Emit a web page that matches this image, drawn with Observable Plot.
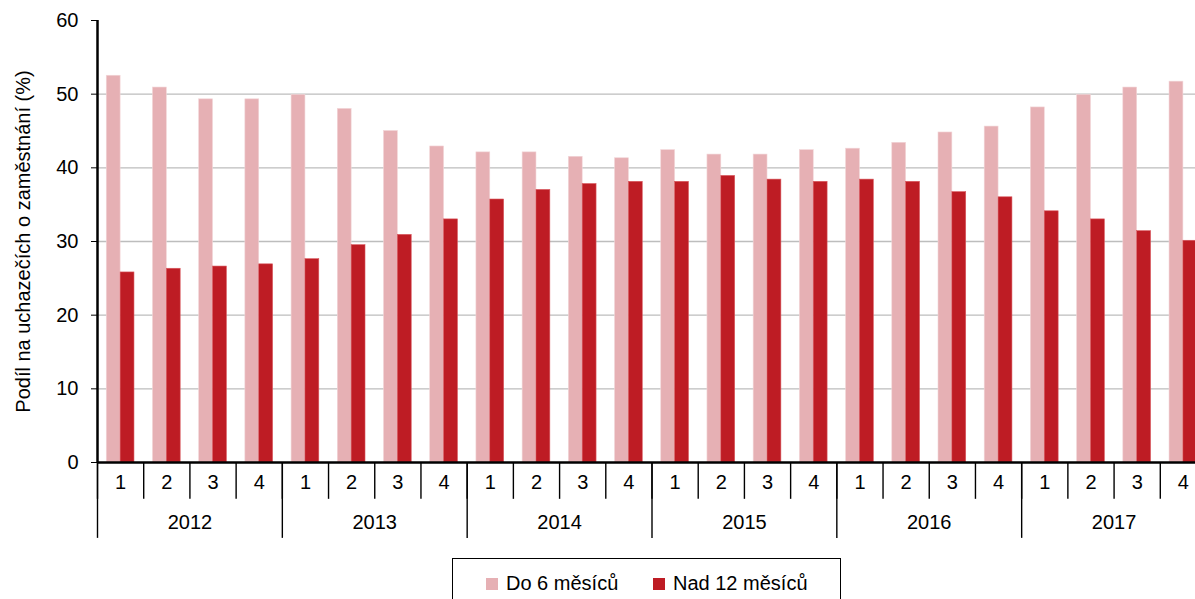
<!DOCTYPE html>
<html>
<head>
<meta charset="utf-8">
<script src="https://cdn.jsdelivr.net/npm/d3@7"></script>
<script src="https://cdn.jsdelivr.net/npm/@observablehq/plot@0.6"></script>
<style>
  html, body { margin: 0; padding: 0; overflow: hidden; background: white; }
  body { width: 1195px; height: 599px; font-family: "Liberation Sans", Arial, sans-serif; }
  #chart svg { max-width: none !important; display: block; }
  #legend {
    position: absolute; left: 452px; top: 558px; width: 389px; height: 60px;
    border: 1px solid #000; box-sizing: border-box; background: white;
    font-size: 20px; color: #000;
  }
  .item { position: absolute; top: 13px; display: flex; align-items: center; white-space: nowrap; }
  .sw { width: 12px; height: 12px; margin-right: 8px; display: inline-block; }
</style>
</head>
<body>
<div id="chart"></div>
<div id="legend">
  <div class="item" style="left:33px"><span class="sw" style="background:#e6b0b4"></span><span id="l1"></span></div>
  <div class="item" style="left:200px"><span class="sw" style="background:#be1c24"></span><span id="l2"></span></div>
</div>
<script>
const years = [2012, 2013, 2014, 2015, 2016, 2017];
const quarters = ["1", "2", "3", "4"];
const seriesNames = ["Do 6 měsíců", "Nad 12 měsíců"];
const seriesColors = ["#e6b0b4", "#be1c24"];
const upTo6Months = [52.5, 50.9, 49.3, 49.3, 49.9, 48.0, 45.0, 42.9, 42.1, 42.1, 41.5, 41.3,
                     42.4, 41.8, 41.8, 42.4, 42.6, 43.4, 44.8, 45.6, 48.2, 49.9, 50.9, 51.7];
const over12Months = [25.8, 26.3, 26.6, 26.9, 27.6, 29.5, 30.9, 33.0, 35.7, 37.0, 37.8, 38.1,
                      38.1, 38.9, 38.4, 38.1, 38.4, 38.1, 36.7, 36.0, 34.1, 33.0, 31.4, 30.1];
const yTicks = [0, 10, 20, 30, 40, 50, 60];
const yLabel = "Podíl na uchazečích o zaměstnání (%)";

document.getElementById("l1").textContent = seriesNames[0];
document.getElementById("l2").textContent = seriesNames[1];

const rows = [];
years.forEach((yr, yi) => quarters.forEach((q, qi) => {
  const i = yi * 4 + qi;
  rows.push({i, year: yr, q, short: upTo6Months[i], long: over12Months[i]});
}));
const n = rows.length;

const chart = Plot.plot({
  width: 1206,
  height: 548,
  marginLeft: 97,
  marginRight: 0,
  marginTop: 20,
  marginBottom: 86,
  style: {fontFamily: "'Liberation Sans', Arial, sans-serif", fontSize: "20px", maxWidth: "none", background: "white", overflow: "visible"},
  x: {type: "linear", domain: [0, n], axis: null},
  y: {domain: [0, 60], axis: null},
  marks: [
    Plot.ruleY(yTicks.filter(t => t > 0 && t < 60), {stroke: "#bdbdbd", strokeWidth: 1.4}),
    Plot.rectY(rows, {x1: d => d.i + 0.2, x2: d => d.i + 0.5, y: "short", fill: seriesColors[0], stroke: "#f2d6d8", strokeWidth: 0.6}),
    Plot.rectY(rows, {x1: d => d.i + 0.5, x2: d => d.i + 0.8, y: "long", fill: seriesColors[1], stroke: "#d9585e", strokeWidth: 0.6}),
    Plot.axisY({ticks: yTicks, tickSize: 6, tickPadding: 13, label: null, fontSize: 20, stroke: "#000"}),
    Plot.ruleX([0], {stroke: "#000", strokeWidth: 2.5}),
    Plot.ruleY([0], {stroke: "#000", strokeWidth: 2.5}),
    Plot.ruleX(d3.range(n + 1), {y1: 0, y2: -5.0, stroke: "#000", strokeWidth: 1.4}),
    Plot.ruleX(d3.range(0, n + 1, 4), {y1: 0, y2: -10.3, stroke: "#000", strokeWidth: 1.4}),
    Plot.text(rows, {x: d => d.i + 0.5, text: "q", frameAnchor: "bottom", dy: 26, fontSize: 20, fill: "#000"}),
    Plot.text(years, {x: (d, i) => i * 4 + 2, text: d => String(d), frameAnchor: "bottom", dy: 66, fontSize: 20, fill: "#000"}),
    Plot.text([yLabel], {text: d => d, frameAnchor: "left", textAnchor: "middle", rotate: -90, dx: -74, fontSize: 20, fill: "#000"})
  ]
});
document.getElementById("chart").appendChild(chart);
</script>
</body>
</html>
